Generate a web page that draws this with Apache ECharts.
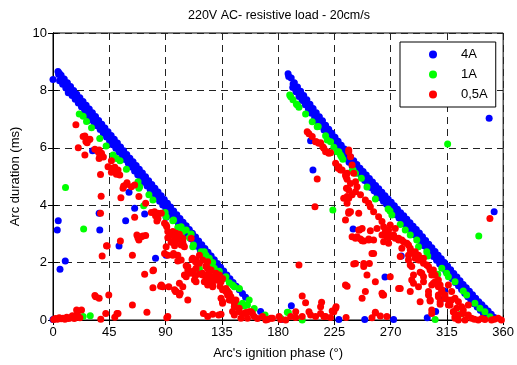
<!DOCTYPE html>
<html>
<head>
<meta charset="utf-8">
<script src="https://cdn.jsdelivr.net/npm/echarts@6/dist/echarts.min.js"></script>
<style>
html, body { margin: 0; padding: 0; background: #fff; }
#chart { width: 517px; height: 365px; }
</style>
</head>
<body>
<div id="chart"></div>
<script>
// values: [ignition phase (deg), arc duration (ms)]
var xTicks = [0, 45, 90, 135, 180, 225, 270, 315, 360];
var yTicks = [0, 2, 4, 6, 8, 10];
var seriesNames = ['4A', '1A', '0,5A'];

var blueBand1 = [[4,8.66],[4.5,8.55],[5,8.6],[6.5,8.53],[9,8.40],[11.5,8.27],[14,8.14],[16.5,8.0],[19,7.87],[21.5,7.74],[24,7.61],[26.5,7.48],[29,7.35],[31.5,7.22],[34,7.09],[36.5,6.95],[39,6.82],[41.5,6.69],[44,6.56],[46.5,6.43],[49,6.3],[51.5,6.17],[54,6.03],[56.5,5.9],[59,5.77],[61.5,5.64],[64,5.51],[66.5,5.38],[69,5.25],[71.5,5.12],[74,4.99],[76.5,4.85],[79,4.72],[81.5,4.59],[84,4.46],[86.5,4.33],[89,4.2],[91.5,4.07],[94,3.94],[96.5,3.8],[99,3.67],[101.5,3.54],[104,3.41],[106.5,3.28],[109,3.15],[111.5,3.02],[114,2.89],[116.5,2.75],[119,2.62],[121.5,2.49],[124,2.36],[126.5,2.23],[129,2.1],[131.5,1.97],[134,1.84],[136.5,1.71],[139,1.57],[141.5,1.44],[144,1.31],[146.5,1.18],[149,1.05],[151.5,0.92],[154,0.79],
  [7.5,8.38],[12.5,8.12],[17.5,7.85],[22.5,7.59],[27.5,7.33],[32.5,7.06],[37.5,6.8],[42.5,6.54],[47.5,6.28],[52.5,6.01],[57.5,5.75],[62.5,5.49],[67.5,5.22],[72.5,4.96],[77.5,4.7],[82.5,4.44],[87.5,4.17],[92.5,3.91],[97.5,3.65],[102.5,3.39],[107.5,3.12],[112.5,2.86],
  [5.25,8.34],[7.75,8.21],[10.25,8.08],[12.75,7.95],[15.25,7.82],[17.75,7.69],[20.25,7.56],[22.75,7.43],[25.25,7.29],[27.75,7.16],[30.25,7.03],[32.75,6.9],[35.25,6.77],[37.75,6.64],[40.25,6.51],[42.75,6.38],[45.25,6.24],[47.75,6.11],[50.25,5.98],[52.75,5.85],[55.25,5.72],[57.75,5.59],[60.25,5.46],[62.75,5.33],[65.25,5.19],[67.75,5.06],[70.25,4.93],[72.75,4.8],[75.25,4.67],[77.75,4.54],[80.25,4.41],[82.75,4.28],[85.25,4.14],[87.75,4.01],[90.25,3.88],[92.75,3.75],[95.25,3.62],[97.75,3.49],[100.25,3.36],[102.75,3.23],[105.25,3.09],[107.75,2.96],[110.25,2.83],[112.75,2.7],[115.25,2.57],[117.75,2.44],[120.25,2.31],[122.75,2.18],[125.25,2.04],[127.75,1.91],[130.25,1.78]];
var blueBand2 = [[188,8.58],[188.5,8.48],[190.5,8.43],[193,8.27],[195.5,8.12],[198,7.97],[200.5,7.82],[203,7.67],[205.5,7.52],[208,7.37],[210.5,7.22],[213,7.08],[215.5,6.94],[218,6.79],[220.5,6.65],[223,6.51],[225.5,6.37],[228,6.23],[230.5,6.09],[233,5.96],[235.5,5.82],[238,5.68],[240.5,5.55],[243,5.42],[245.5,5.29],[248,5.17],[250.5,5.05],[253,4.93],[255.5,4.81],[258,4.69],[260.5,4.57],[263,4.45],[265.5,4.33],[268,4.22],[270.5,4.1],[273,3.98],[275.5,3.86],[278,3.74],[280.5,3.63],[283,3.51],[285.5,3.39],[288,3.27],[290.5,3.15],[293,3.03],[295.5,2.9],[298,2.77],[300.5,2.64],[303,2.52],[305.5,2.39],[308,2.26],[310.5,2.13],[313,2.0],[315.5,1.88],[318,1.75],[320.5,1.62],[323,1.5],[325.5,1.37],[328,1.24],[330.5,1.12],[333,1.0],[335.5,0.88],[338,0.76],[340.5,0.64],[343,0.53],[345.5,0.42],[348,0.31],[350.5,0.2],[353,0.09],
  [192,8.22],[197,7.92],[202,7.62],[207,7.33],[212,7.03],[217,6.74],[222,6.46],[227,6.18],[232,5.91],[237,5.64],[242,5.37],[247,5.12],[252,4.88],[257,4.64],[262,4.4],[267,4.17],[272,3.93],[277,3.7],[282,3.46],[287,3.22],[292,2.98],[297,2.72],[302,2.46],[307,2.21],[312,1.95],[317,1.7],[322,1.45],[327,1.19],[332,0.95],[337,0.71],[342,0.48],[347,0.26],
  [191.75,8.1],[194.25,7.95],[196.75,7.79],[199.25,7.65],[201.75,7.5],[204.25,7.35],[206.75,7.2],[209.25,7.05],[211.75,6.9],[214.25,6.76],[216.75,6.62],[219.25,6.47],[221.75,6.33],[224.25,6.19],[226.75,6.05],[229.25,5.91],[231.75,5.78],[234.25,5.64],[236.75,5.5],[239.25,5.37],[241.75,5.24],[244.25,5.11],[246.75,4.98],[249.25,4.86],[251.75,4.74],[254.25,4.62],[256.75,4.5],[259.25,4.38],[261.75,4.26],[264.25,4.14],[266.75,4.03],[269.25,3.91],[271.75,3.79],[274.25,3.67],[276.75,3.55],[279.25,3.44],[281.75,3.32],[284.25,3.2],[286.75,3.08],[289.25,2.96],[291.75,2.84],[294.25,2.72],[296.75,2.59],[299.25,2.46],[301.75,2.33],[304.25,2.21],[306.75,2.08],[309.25,1.95],[311.75,1.82],[314.25,1.69],[316.75,1.57],[319.25,1.44],[321.75,1.31],[324.25,1.19],[326.75,1.06],[329.25,0.93],[331.75,0.81],[334.25,0.69],[336.75,0.57],[339.25,0.45],[341.75,0.34],[344.25,0.23],[346.75,0.12]];
var blueScatter = [[0,8.38],[12.2,7.92],[28,6.95],[31.6,5.9],[4.2,3.46],[3.4,3.14],[5.6,1.77],[9.8,2.06],[36.9,3.72],[37.4,3.14],[52.8,2.58],[58.1,3.46],[60.8,4.45],[65.3,3.89],[73.3,3.69],[82,2.15],[90.5,2.26],[90.5,3.58],[0,0.02],[166,0.3],[190.6,0.5],[183,0.02],[228.6,0.02],[249.3,0.02],[272.4,0.02],[265.5,1.5],[278.5,2.23],[240,3.17],[352.8,3.77],[299.3,0.08],[306,0.3],[313,1.01],[313,0.76],[348.8,7.03],[206,6.25],[207.9,5.23]];

var greenBand1 = [[21,7.18],[24.1,7.1],[26.8,6.92],[30.8,6.7],[37.4,6.32],[42.5,6.06],[48,5.75],[50.7,5.63],[53.6,5.55],[58.7,5.25],[68,4.82],[69.3,4.64],[68.7,4.59],[72.5,3.98],[76.7,4.36],[79.9,4.18],[89.7,3.75],[90.5,3.6],[95.8,3.46],[96.4,3.48],[99.8,3.22],[102.5,3.25],[103.8,3.08],[106.5,3.14],[109.1,2.87],[110.5,3.0],[111.8,2.55],[112.3,2.61],[117.1,1.78],[118.4,2.38],[119.7,2.26],[121,2.38],[122.4,2.26],[123.7,2.09],[125,2.15],[126.4,1.92],[127.7,2.0],[129,1.8],[133,1.7],[137,1.45],[138.3,1.51],[141,1.3],[143.6,1.22],[145,1.16],[149,1.1],[148.4,0.52],[151.6,0.58],[152.9,0.49],[155.5,0.52],[156.9,0.7],[160.9,0.4],[168.8,0.12],[182.1,0.06],[188.2,0.26],[187.4,0.27],[199.3,0.0],[169.6,0.17]];
var greenBand2 = [[189.3,7.84],[190.1,7.78],[191.9,7.67],[194.6,7.53],[195.4,7.49],[196.7,7.41],[202,7.18],[207.3,6.91],[211.3,6.73],[212.1,6.74],[218,6.42],[219.3,6.27],[222,6.21],[224.6,6.02],[227.2,5.86],[228.6,5.86],[229.9,5.75],[230.7,5.69],[231.8,5.6],[239.2,5.2],[240,5.23],[241.9,5.11],[246.6,4.94],[251.1,4.63],[257.8,4.22],[268,3.87],[269.5,3.8],[271,3.66],[277.7,3.33],[281.7,3.14],[285.7,2.96],[290.9,2.79],[292.3,2.55],[298.9,2.38],[299.7,2.23],[307.7,1.59],[310.9,1.8],[314.8,1.63],[316.2,1.51],[321.5,1.33],[328.1,1.01],[330.8,0.87],[337.4,0.58],[341.4,0.41],[345.4,0.29],[349.4,0.11]];
var greenScatter = [[10,4.62],[24.5,3.17],[24.1,0.12],[29.8,0.15],[223.8,3.83],[315.6,6.13],[340.5,2.93],[305.6,0.02],[326.5,0.22]];

var redZero = [[0.5,0.02],[2,0.05],[3.5,0.03],[5,0.08],[6.5,0.04],[8,0.06],[9.5,0.03],[11,0.1],[12.5,0.05],[14,0.08],[15.5,0.15],[16.2,0.12],[17,0.05],[18.5,0.1],[19.5,0.2],[21.5,0.08],[18.9,0.35],[22.8,0.35],
  [33.5,0.85],[36.9,0.76],[34.2,0.81],[44.6,0.87],[38.2,0.03],[42.2,0.23],[49.4,0.1],[51.2,0.23],[52,0.23],[63.5,0.52],[75.1,0.27],[91,0.08],[91.8,0.12],[120.3,0.23],[123.7,0.12],[127.7,0.2],[132.5,0.17],[134.4,0.2],[143.6,0.3],[145,0.17],[149,0.29],[150.3,0.06],[152.9,0.23],[154.3,0.26],[155.5,0.06],[156.9,0.29],[158.3,0.29],[159.5,0.23],[160.9,0.12],[163.5,0.05],[167.5,0.12],[170.2,0.0],[171.5,0.02],[174.2,0.06],[175.5,0.06],[180.8,0.12],[182.1,0.02],[186.1,0.0],[190.1,0.12],[194.1,0.09],[194.1,0.29],[199.3,0.12],[204.7,0.29],[206,0.17],[210,0.12],[214,0.23],[218,0.12],[216.6,0.12],[222,0.09],[224.6,0.29],[226.4,0.46],[223.3,0.31],[234.4,0.09],[255.1,0.08],[257.8,0.24],[261.8,0.14],[267,0.12]];
var redHalf1 = [[18.3,6.8],[20.2,6.0],[24.1,6.39],[25.5,6.41],[26.3,6.22],[27.3,6.18],[28.5,6.28],[29.5,6.3],[25.5,5.75],[33.5,5.95],[36.1,5.86],[36.9,5.92],[37.4,5.75],[38.8,5.81],[36.9,5.63],[40.3,5.68],[38,5.07],[44,5.34],[46.7,5.55],[47.5,5.29],[46.7,5.15],[48,5.17],[49.4,5.32],[50.7,5.08],[52,5.23],[53.4,5.05],[56.5,4.67],[58.7,4.72],[59.2,4.78],[62.7,4.64],[65.3,4.7],[56,4.59],
  [38.5,4.31],[54.3,4.26],[68.7,4.3],[38,3.72],[65.3,3.58],[74.1,4.07],[78.6,3.75],[81.2,3.77],[82,3.63],[83.9,3.54],[83.1,3.45],[83.9,3.72],[86.6,3.72],[89.2,3.37],[90.5,3.31],[91,3.25],[91.8,3.08],[93.2,3.02],[93.7,2.96],[95.8,3.08],[98.5,2.96],[99.8,2.96],[101.1,2.99],[91.8,2.87],[94.5,2.71],[97.2,2.85],[98,2.73],[98.5,3.02],[97.2,2.59],[101.1,2.85],[102.5,2.79],[102.5,2.61],[103.8,2.85],[104.3,2.61],[105.1,2.55],[103.8,2.73],[110.5,2.85],[96.4,2.32],[95.8,2.26],[99.8,2.26],[90.5,2.55],[89.2,2.32],[91.8,2.26],[67.1,2.96],[67.9,2.87],[68.7,2.79],[70.6,2.9],[71.9,2.93],[74.1,2.94],[43.3,2.58],[42.8,2.59],[39.3,2.23],[63.5,2.26],[53.9,2.75],[73.3,1.59],[79.9,1.72],[80.4,1.74],[79.9,1.12],[86.6,1.22],[86,1.18],[87.8,1.16],[92.6,1.16],[98,0.99],[98.5,0.99],[97.2,1.05],[101.1,0.87],[101.7,0.93],[103.8,1.16],[101.1,1.28],[106.5,1.51],[107.8,0.7],[109.1,1.63],[112.3,1.71],[114.4,1.8],[113.9,1.54],[113.1,1.39],[111.8,1.63],[111.8,2.15],[105.1,1.57],[99.8,2.06],[101.1,2.09],[106.5,1.89],[107.8,1.86],[113.9,2.03],[102.5,2.09],[107.8,1.74],[111.2,2.11],[114.4,1.33],[117.1,1.6],[117.1,1.98],[117.1,2.26],[119.7,2.09],[114.4,2.09],[122.4,1.88],[123.7,2.03],[125,1.63],[125,1.66],[119.7,1.57],[119.7,1.63],[121,1.33],[122.4,1.45],[123.7,1.22],[122.4,1.86],[126.4,1.74],[127.7,1.45],[130.4,1.39],[134.4,1.33],[133,1.57],[131.7,1.45],[135.6,1.45],[122.9,1.51],[123.7,1.8],[127.2,1.49],[130.4,1.63],[133,1.37],[123.7,1.28],[125,1.33],[127.7,1.16],[127.7,1.22],[133.6,1.18],[135.6,1.05],[138.3,1.1],[139.6,1.01],[139.6,0.87],[141,0.93],[142.3,0.81],[142.3,0.7],[143.6,0.7],[145,0.58],[145,0.46],[148.9,0.41],[134.4,0.76],[135.6,0.64],[135.6,0.58],[141,0.7],[146.3,0.7],[138.3,0.99]];
var redHalf2 = [[196.7,1.92],[199.3,0.84],[202,0.6],[214,0.46],[214.8,0.62],[226,0.41],[235.2,1.18],[233.9,1.22],[240.5,1.95],[241.9,1.97],[248.5,1.86],[251.1,1.57],[256.4,2.32],[209.5,3.95],[233.9,3.48],[236.5,3.77],[244.5,3.72],[245.1,3.14],[243.2,2.9],[247.2,2.76],[252.5,2.79],[253.8,3.11],[263.6,0.87],[247.2,0.76],[249.8,0.99],[234.7,4.59],[235.2,4.3],[235.2,4.07],[232.5,4.24],[211.3,4.91],
  [203.3,6.56],[204.7,6.49],[207.3,6.39],[210,6.21],[210.6,6.21],[212.6,6.16],[214,6.18],[215.8,6.04],[216.6,5.98],[218,5.86],[219.3,5.86],[220.6,5.81],[222,5.83],[226,5.46],[228,5.29],[228.6,5.34],[229.9,5.23],[231.2,5.23],[233.9,5.05],[235.2,5.11],[235.2,4.9],[234.4,4.99],[236.5,5.92],[237.9,4.76],[236.5,5.86],[237.9,5.69],[239.2,5.4],[240.5,5.11],[241.9,4.82],[243.2,4.64],[236.5,4.53],[239.2,4.36],
  [236.5,4.24],[241.9,4.47],[245.9,4.36],[249.8,4.18],[252.5,4.07],[253.8,3.95],[256.4,3.77],[260.4,3.6],[263.1,3.43],[264.4,3.25],[265.8,3.08],[268.4,2.99],[269.7,2.9],[273.7,2.85],[276.4,2.79],[280.3,2.73],[284.3,2.61],[285.7,2.44],[288.3,2.32],[290.9,2.21],[292.3,2.09],[296.3,1.98],[300.3,1.86],[304.2,1.74],[305.6,1.57],[308.2,1.39],[309.6,1.22],[310.9,1.05],[313.5,0.87],[316.2,0.7],[317.5,0.52],[320.2,0.29],[321.5,0.12],[324.2,0.0],[329.5,0.0],[334.7,0.06],[340.1,0.0],[345.4,0.02],[350.7,0.0],[356,0.06],[358.6,0.0],[337,0.03],[343,0.05],[353,0.03],
  [268.4,3.14],[272.4,2.96],[276.4,2.85],[279,2.79],[283,2.67],[285.7,2.5],[289.7,2.38],[292.3,2.26],[293.6,2.09],[296.3,2.15],[298.9,1.92],[301.6,1.74],[302.9,1.57],[305.6,1.33],[308.2,1.16],[310.9,0.99],[313.5,0.76],[318.8,0.7],[316.2,0.52],[320.2,0.29],[324.2,0.17],[328.1,0.35],[332.1,0.52],[302.9,1.22],[308.2,0.87],[300.3,0.87],[301.6,0.7],[309.6,0.64],[321.5,0.06],[289.7,2.15],[286.9,1.86],[294.9,1.63],[296.3,1.33],[286.9,1.39],[279,2.5],[284.3,2.26],[268.4,2.67],[267,2.9],[255.1,2.32],[256.4,2.79],[263.1,2.96],[259.1,3.19],[269.7,3.31],[273.7,3.19],[302.9,0.23],[257.8,0.27],
  [236.5,3.72],[237.9,3.77],[244.5,3.14],[247.2,3.19],[239.2,2.9],[241.9,2.85],[245.9,2.82],[248.5,2.75],[252.5,2.82],[253,1.97],[248.5,1.97],[257.8,1.33],[263.1,0.93],[264.4,0.87],[269.7,1.51],[276.4,1.1],[277.7,1.1],[264.4,2.96],[264.4,2.73],[277.7,2.21],[284.3,2.09],[285.7,1.92],[288.3,1.57],[293.6,1.66],[296.3,1.51],[288.3,1.28],[292.3,1.16],[293.6,0.64],[285.7,0.99],[300.3,0.99],[301.6,0.66],[302.9,0.35],[308.2,0.81],[304.2,1.28],[316.2,1.22],[318.8,0.99],[321.5,0.76],[324.2,0.64],[322.8,0.41],[326.8,0.46],[328.1,0.23],[332.1,0.17],[309.6,0.55],[349.4,3.54]];

var font = 'Liberation Sans, Arial, sans-serif';
var chart = echarts.init(document.getElementById('chart'));

function axisCommon(min, max, interval) {
    return {
        type: 'value', min: min, max: max, interval: interval,
        axisLine: { show: true, lineStyle: { color: '#000', width: 1 } },
        axisTick: { show: true, inside: true, length: 5, lineStyle: { color: '#000' } },
        axisLabel: { color: '#000', fontSize: 13, fontFamily: font },
        splitLine: { show: true, lineStyle: { color: '#222', type: [7, 5], width: 1 } }
    };
}

var xMain = axisCommon(xTicks[0], xTicks[xTicks.length - 1], 45);
xMain.axisLabel.margin = 6;
xMain.name = "Arc's ignition phase (\u00b0)";
xMain.nameLocation = 'middle';
xMain.nameGap = 27;
xMain.nameTextStyle = { color: '#000', fontSize: 13, fontFamily: font };
var xTop = axisCommon(xTicks[0], xTicks[xTicks.length - 1], 45);
xTop.position = 'top';
xTop.axisLabel = { show: false };
xTop.splitLine = { show: false };

var yMain = axisCommon(yTicks[0], yTicks[yTicks.length - 1], 2);
yMain.axisLabel.margin = 6;
yMain.name = 'Arc duration (ms)';
yMain.nameLocation = 'middle';
yMain.nameGap = 30;
yMain.nameTextStyle = { color: '#000', fontSize: 13, fontFamily: font };
var yRight = axisCommon(yTicks[0], yTicks[yTicks.length - 1], 2);
yRight.position = 'right';
yRight.axisLabel = { show: false };
yRight.splitLine = { show: false };

var colors = ['#0000ff', '#00ff00', '#ff0000'];
var seriesData = [
    blueBand1.concat(blueBand2, blueScatter),
    greenBand1.concat(greenBand2, greenScatter),
    redZero.concat(redHalf1, redHalf2)
];

chart.setOption({
    animation: false,
    grid: { left: 53, right: 12, top: 33, bottom: 45, show: true, borderColor: '#000', borderWidth: 1 },
    graphic: [{
        type: 'text', x: 279, y: 16,
        style: { text: '220V AC- resistive load - 20cm/s', fill: '#000', font: '12.5px ' + font, align: 'center', verticalAlign: 'middle' }
    }],
    legend: {
        data: seriesNames,
        orient: 'vertical',
        left: 400, top: 42,
        padding: [6, 8, 6, 29],
        itemWidth: 8, itemHeight: 8, itemGap: 7,
        icon: 'circle',
        borderColor: '#000', borderWidth: 1,
        backgroundColor: '#fff',
        textStyle: { color: '#000', fontSize: 13, fontFamily: font, padding: [0, 0, 0, 19] }
    },
    xAxis: [xMain, xTop],
    yAxis: [yMain, yRight],
    series: seriesNames.map(function (n, i) {
        return {
            name: n, type: 'scatter', data: seriesData[i],
            symbolSize: 7, itemStyle: { color: colors[i], opacity: 1 }
        };
    })
});
</script>
</body>
</html>
